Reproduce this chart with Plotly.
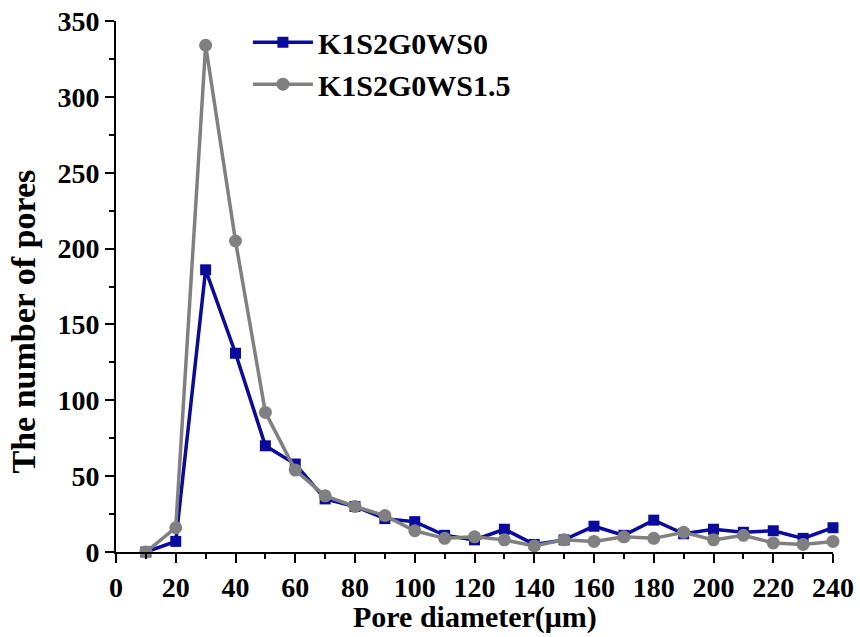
import plotly.graph_objects as go

diameter = [10, 20, 30, 40, 50, 60, 70, 80, 90, 100, 110, 120,
            130, 140, 150, 160, 170, 180, 190, 200, 210, 220, 230, 240]
ws0 = [0, 7, 186, 131, 70, 58, 35, 30, 22, 20, 11, 8,
       15, 5, 8, 17, 11, 21, 12, 15, 13, 14, 9, 16]
ws15 = [0, 16, 334, 205, 92, 54, 37, 30, 24, 14, 9, 10,
        8, 4, 8, 7, 10, 9, 13, 8, 11, 6, 5, 7]
names = ["K1S2G0WS0", "K1S2G0WS1.5"]
x_ticks = list(range(0, 241, 20))
y_ticks = list(range(0, 351, 50))
x_title = "Pore diameter(μm)"
y_title = "The number of pores"

FONT = "Liberation Serif"
BLUE = "#0A0AA0"
GRAY = "#808080"

fig = go.Figure()
fig.add_trace(go.Scatter(
    x=diameter, y=ws0, name=names[0], mode="lines+markers",
    line=dict(color=BLUE, width=3.5),
    marker=dict(symbol="square", size=11, color=BLUE),
    cliponaxis=False))
fig.add_trace(go.Scatter(
    x=diameter, y=ws15, name=names[1], mode="lines+markers",
    line=dict(color=GRAY, width=3.5),
    marker=dict(symbol="circle", size=13, color=GRAY),
    cliponaxis=False))

axis_common = dict(
    showgrid=False, zeroline=False, showline=True, linecolor="black",
    linewidth=2, ticks="outside", ticklen=9, tickwidth=2, tickcolor="black",
    tickfont=dict(family=FONT, size=28, color="black", weight="bold"),
    mirror=False, automargin=False,
)

fig.update_layout(
    width=860, height=637,
    margin=dict(l=116, r=27, t=21, b=85),
    paper_bgcolor="white", plot_bgcolor="white",
    font=dict(family=FONT, color="black"),
    xaxis=dict(
        **axis_common, range=[0, 240], tickvals=x_ticks,
        minor=dict(dtick=10, ticklen=5, tickwidth=2, tickcolor="black", ticks="outside"),
    ),
    yaxis=dict(
        **axis_common, range=[0, 350], tickvals=y_ticks,
        minor=dict(dtick=25, ticklen=5, tickwidth=2, tickcolor="black", ticks="outside"),
    ),
    legend=dict(
        x=0.184, y=1.009, xanchor="left", yanchor="top",
        bgcolor="rgba(0,0,0,0)", borderwidth=0,
        font=dict(family=FONT, size=30, color="black", weight="bold"),
        tracegroupgap=0, itemwidth=60,
    ),
    showlegend=True,
    annotations=[
        dict(text=x_title, xref="paper", yref="paper", x=0.5, y=0,
             xanchor="center", yanchor="middle", yshift=-65, showarrow=False,
             font=dict(family=FONT, size=30, color="black", weight="bold")),
        dict(text=y_title, xref="paper", yref="paper", x=0, y=0.434,
             xanchor="center", yanchor="middle", xshift=-92, textangle=-90,
             showarrow=False,
             font=dict(family=FONT, size=34, color="black", weight="bold")),
    ],
)

fig.write_html("out.html", config={"displayModeBar": False},
               post_script="document.body.style.margin='0';")
